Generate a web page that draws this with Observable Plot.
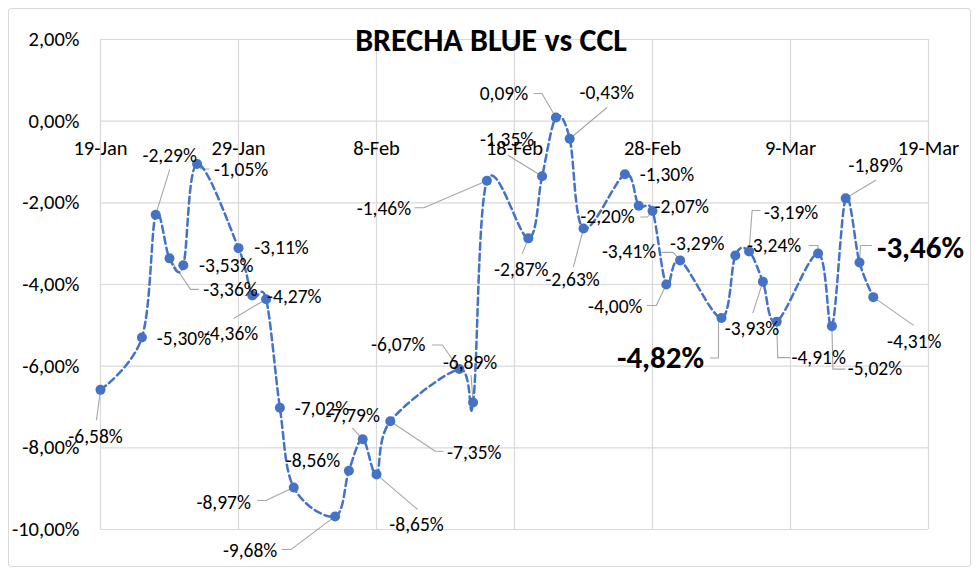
<!DOCTYPE html>
<html><head><meta charset="utf-8">
<script src="https://cdn.jsdelivr.net/npm/d3@7"></script>
<script src="https://cdn.jsdelivr.net/npm/@observablehq/plot@0.6"></script>
<style>
body{margin:0;background:#fff;}
#wrap{position:relative;width:980px;height:575px;overflow:hidden;font-family:Carlito,Calibri,Lato,sans-serif;}
#border{position:absolute;left:8px;top:8px;width:961px;height:557px;border:1px solid #d9d9d9;border-radius:3px;pointer-events:none;}
#title{position:absolute;left:0;top:23px;width:982px;text-align:center;font-weight:bold;font-size:32px;line-height:36px;color:#000;pointer-events:none;}
svg{position:absolute;left:0;top:0;}
</style></head><body>
<div id="wrap"><div id="border"></div><div id="chart"></div><div id="title">BRECHA BLUE vs CCL</div></div>
<script>
// ---- data ----
const dates = ["2024-01-19","2024-01-22","2024-01-23","2024-01-24","2024-01-25","2024-01-26","2024-01-29","2024-01-30","2024-01-31","2024-02-01","2024-02-02","2024-02-05","2024-02-06","2024-02-07","2024-02-08","2024-02-09","2024-02-14","2024-02-15","2024-02-16","2024-02-19","2024-02-20","2024-02-21","2024-02-22","2024-02-23","2024-02-26","2024-02-27","2024-02-28","2024-02-29","2024-03-01","2024-03-04","2024-03-05","2024-03-06","2024-03-07","2024-03-08","2024-03-11","2024-03-12","2024-03-13","2024-03-14","2024-03-15"];
const values = [-6.58,-5.30,-2.29,-3.36,-3.53,-1.05,-3.11,-4.27,-4.36,-7.02,-8.97,-9.68,-8.56,-7.79,-8.65,-7.35,-6.07,-6.89,-1.46,-2.87,-1.35,0.09,-0.43,-2.63,-1.30,-2.07,-2.20,-4.00,-3.41,-4.82,-3.29,-3.19,-3.93,-4.91,-3.24,-5.02,-1.89,-3.46,-4.31];
const boldDates = ["2024-03-04","2024-03-14"];
const xTickDates = ["2024-01-19","2024-01-29","2024-02-08","2024-02-18","2024-02-28","2024-03-09","2024-03-19"];
const xTickLabels = ["19-Jan","29-Jan","8-Feb","18-Feb","28-Feb","9-Mar","19-Mar"];
const yTicks = [2,0,-2,-4,-6,-8,-10];

// ---- label layout (pixel offsets from each point) ----
const labelDx = [-5,42,14,61,43,44,43,42,-35,42,-70,-85,-36,-10,40,84,-61,-3,-103,-7,-35,-52,37,-11,42,43,-45,-51,-51,-61,-38,42,-11,42,-44,43,30,61,41];
const labelDy = [47,1,-59,31,0,6,0,1,35,1,15,34,-10,-24,50,31,-24,-40,28,31,-37,-24,-46,51,0,1,6,22,-9,40,-12,-39,47,36,-8,43,-33,-14,45];
const leaders = [
  [[0,0],[-4,30]], null, [[0,0],[14,-45]], [[0,0],[21,31],[29,31]], null, [[0,0],[4,5],[12,5]], null, null,
  [[0,0],[-32,19]], null, [[0,0],[-28,13],[-36,13]], [[0,0],[-44,33],[-53,33]], null, [[0,0],[-10,-11]],
  [[0,0],[41,35]], [[0,0],[45,30],[53,30]], [[0,0],[-17,-24],[-27,-24]], [[0,0],[-2,-27]], [[0,0],[-63,27],[-72,27]],
  [[0,0],[-6,15]], [[0,0],[-34,-21]], [[0,0],[-14,-24],[-22,-24]], [[0,0],[37,-31]], [[0,0],[-10,38]], null, null,
  [[0,0],[-5,6],[-12,6]], [[0,0],[-10,21],[-19,21]], [[0,0],[-7,-8],[-18,-8]], [[-3,0],[-3,40],[-11,40]], null,
  [[0,0],[3,-41],[11,-41]], [[0,0],[-10,31]], [[0,0],[1,36],[13,36]], [[0,0],[0,-8],[-9,-8]], [[0,0],[1,43],[13,43]],
  [[0,0],[30,-18]], [[0,0],[1,-17],[12,-17]], [[0,0],[40,28]]
];

// ---- geometry ----
const W = 980, H = 575, mL = 100, mR = 52, mT = 39, mB = 46;
const x0 = new Date("2024-01-19"), x1 = new Date("2024-03-19");
const msPerPx = (x1 - x0) / (W - mL - mR);
const pctPerPx = 12 / (H - mT - mB);
const fmt = v => v.toFixed(2).replace(".", ",") + "%";
const FONT = "Carlito, Calibri, Lato, sans-serif";

const pts = dates.map((d, i) => ({date: new Date(d), value: values[i], i, bold: boldDates.includes(d)}));
const shift = (p, dx, dy) => ({x: new Date(+p.date + dx * msPerPx), y: p.value - dy * pctPerPx});
const labels = pts.map(p => ({...shift(p, labelDx[p.i], labelDy[p.i]), text: fmt(p.value), bold: p.bold}));
const leaderPts = [];
pts.forEach(p => { if (leaders[p.i]) leaders[p.i].forEach(([dx, dy]) => leaderPts.push({...shift(p, dx, dy), k: p.i})); });
const xt = xTickDates.map((d, i) => ({date: new Date(d), label: xTickLabels[i]}));

const chart = Plot.plot({
  width: W, height: H,
  marginLeft: mL, marginRight: mR, marginTop: mT, marginBottom: mB,
  style: {fontFamily: FONT, fontSize: "20px", color: "#000", background: "transparent"},
  x: {type: "utc", domain: [x0, x1], axis: null},
  y: {domain: [-10, 2], axis: null},
  marks: [
    Plot.ruleX(xt, {x: "date", stroke: "#d9d9d9", strokeWidth: 1.2, strokeOpacity: 1}),
    Plot.ruleY(yTicks, {stroke: "#d9d9d9", strokeWidth: 1.2, strokeOpacity: 1}),
    Plot.axisY({ticks: yTicks, tickFormat: fmt, tickSize: 0, tickPadding: 21, fontSize: 20.5}),
    Plot.text(xt, {x: "date", y: () => 0, text: "label", dy: 27, fontSize: 20.5, fill: "#000"}),
    Plot.line(leaderPts, {x: "x", y: "y", z: "k", stroke: "#a6a6a6", strokeWidth: 1.1}),
    Plot.line(pts, {x: "date", y: "value", stroke: "#4472C4", strokeWidth: 2.5, strokeDasharray: "7,4", curve: "cardinal", tension: 0}),
    Plot.dot(pts, {x: "date", y: "value", r: 5, fill: "#4472C4", stroke: "none"}),
    Plot.text(labels.filter(d => !d.bold), {x: "x", y: "y", text: "text", fontSize: 19.5, fill: "#000"}),
    Plot.text(labels.filter(d => d.bold), {x: "x", y: "y", text: "text", fontSize: 31, fontWeight: "bold", fill: "#000"})
  ]
});
document.getElementById("chart").appendChild(chart);
</script>
</body></html>
